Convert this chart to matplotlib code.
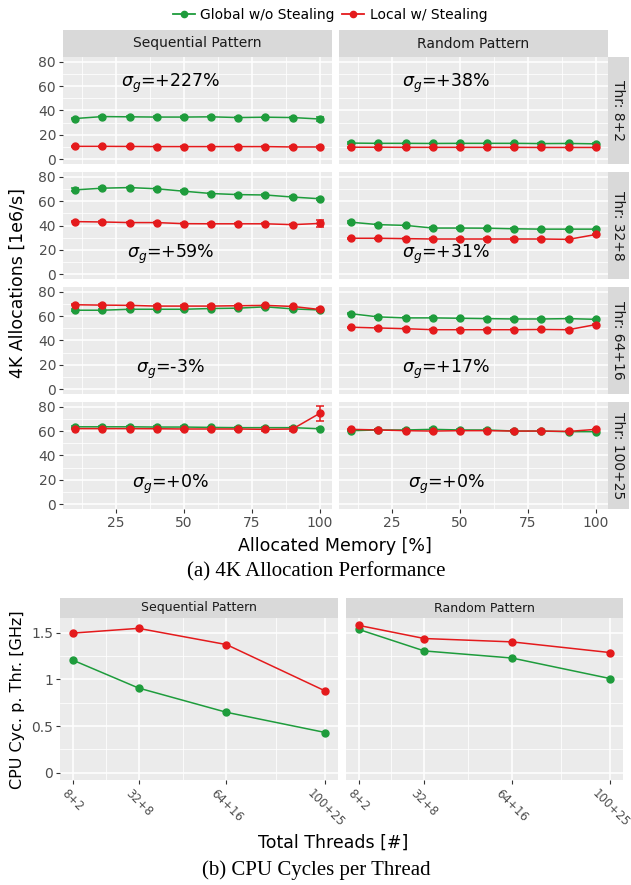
import numpy as np
import matplotlib
matplotlib.use('Agg')
import matplotlib.pyplot as plt
from matplotlib.lines import Line2D

# ---- data (a) 4K allocation performance ----
memory = [10, 20, 30, 40, 50, 60, 70, 80, 90, 100]
thread_rows = ['Thr: 8+2', 'Thr: 32+8', 'Thr: 64+16', 'Thr: 100+25']
patterns = ['Sequential Pattern', 'Random Pattern']

seq_global = [
    [33.4, 35.0, 34.8, 34.6, 34.6, 34.8, 34.2, 34.5, 34.2, 33.0],
    [69.3, 70.7, 71.2, 70.2, 68.2, 66.3, 65.4, 65.1, 63.4, 62.0],
    [64.9, 64.9, 65.7, 65.7, 65.7, 66.3, 66.6, 67.7, 66.0, 65.1],
    [63.6, 63.6, 63.6, 63.4, 63.4, 63.1, 62.9, 62.9, 62.9, 62.0],
]
seq_local = [
    [10.5, 10.5, 10.4, 10.3, 10.3, 10.3, 10.3, 10.3, 10.0, 10.0],
    [43.2, 42.9, 42.4, 42.4, 41.5, 41.4, 41.4, 41.4, 40.7, 41.7],
    [69.4, 69.1, 68.9, 68.3, 68.3, 68.3, 68.6, 68.9, 68.0, 65.5],
    [62.1, 62.1, 62.1, 62.0, 61.8, 61.8, 61.8, 61.5, 61.8, 74.7],
]
rand_global = [
    [13.2, 13.0, 13.0, 12.9, 13.0, 13.0, 13.0, 12.8, 12.9, 12.6],
    [42.7, 40.7, 40.1, 37.9, 37.9, 37.8, 37.3, 37.0, 37.0, 37.0],
    [62.0, 59.4, 58.6, 58.6, 58.3, 58.0, 57.7, 57.7, 58.0, 57.4],
    [60.4, 61.0, 61.0, 61.5, 61.0, 61.0, 60.1, 60.1, 59.6, 59.6],
]
rand_local = [
    [9.8, 9.8, 9.7, 9.7, 9.7, 9.7, 9.7, 9.6, 9.6, 9.6],
    [29.5, 29.5, 29.2, 28.9, 28.9, 28.9, 28.9, 28.9, 28.6, 32.6],
    [50.9, 50.3, 49.7, 48.9, 48.9, 48.9, 48.9, 49.1, 48.9, 53.1],
    [61.5, 61.0, 60.4, 60.1, 60.4, 60.4, 60.1, 60.1, 59.8, 61.5],
]
seq_global_err = [
    [0.8, 0.6, 0.5, 0.5, 0.5, 0.5, 0.6, 0.5, 0.6, 1.8],
    [1.2, 0.8, 0.6, 0.6, 0.6, 0.5, 0.5, 0.5, 0.6, 0.8],
    [1.0, 0.8, 0.6, 0.6, 0.6, 0.6, 0.6, 0.8, 0.6, 0.8],
    [0.6, 0.6, 0.6, 0.6, 0.6, 0.6, 0.6, 0.6, 0.6, 0.6],
]
seq_local_err = [
    [0.5, 0.5, 0.5, 0.5, 0.5, 0.5, 0.5, 0.5, 0.5, 0.8],
    [0.6, 0.5, 0.5, 0.5, 0.5, 0.5, 0.5, 0.5, 0.5, 2.6],
    [0.6, 0.6, 0.6, 0.6, 0.6, 0.6, 0.6, 0.6, 0.6, 1.0],
    [0.6, 0.6, 0.6, 0.6, 0.6, 0.6, 0.6, 1.2, 1.5, 6.3],
]
rand_global_err = [
    [0.6, 0.5, 0.5, 0.5, 0.5, 0.5, 0.5, 0.5, 0.5, 0.5],
    [0.6, 0.5, 0.5, 0.5, 0.5, 0.5, 0.5, 0.5, 0.5, 0.5],
    [0.6, 0.5, 0.5, 0.5, 0.5, 0.5, 0.5, 0.5, 0.5, 0.5],
    [0.6, 0.5, 0.5, 0.8, 0.5, 0.6, 0.5, 0.5, 0.5, 0.5],
]
rand_local_err = [
    [0.4, 0.4, 0.4, 0.4, 0.4, 0.4, 0.4, 0.4, 0.4, 0.4],
    [0.5, 0.5, 0.5, 0.5, 0.5, 0.5, 0.5, 0.5, 0.5, 0.6],
    [0.5, 0.5, 0.5, 0.5, 0.5, 0.5, 0.5, 0.5, 0.5, 0.6],
    [0.5, 0.5, 0.5, 0.5, 0.5, 0.5, 0.5, 0.5, 0.5, 0.6],
]
seq_sigma = ['+227%', '+59%', '-3%', '+0%']
rand_sigma = ['+38%', '+31%', '+17%', '+0%']
sigma_y = [62, 16, 16, 16]

# ---- data (b) CPU cycles per thread ----
threads_total = [10, 40, 80, 125]
thread_labels = ['8+2', '32+8', '64+16', '100+25']
cyc_seq_global = [1.207, 0.907, 0.647, 0.43]
cyc_seq_local = [1.496, 1.547, 1.373, 0.875]
cyc_rand_global = [1.536, 1.305, 1.229, 1.008]
cyc_rand_local = [1.579, 1.438, 1.402, 1.287]

GREEN = '#1e9c3c'
RED = '#e41a1c'
PANEL_BG = '#EBEBEB'
STRIP_BG = '#D9D9D9'
TICK_COL = '#4D4D4D'

W, H = 631, 885
fig = plt.figure(figsize=(W / 100, H / 100), dpi=100)


def px_axes(x0, y0, x1, y1):
    # pixel box (top-left origin) -> figure axes
    return fig.add_axes([x0 / W, 1 - y1 / H, (x1 - x0) / W, (y1 - y0) / H])


def style_panel(ax, xmajor, xminor, ymajor, yminor, show_x, show_y, tick_size):
    ax.set_facecolor(PANEL_BG)
    for s in ax.spines.values():
        s.set_visible(False)
    ax.set_xticks(xmajor)
    ax.set_xticks(xminor, minor=True)
    ax.set_yticks(ymajor)
    ax.set_yticks(yminor, minor=True)
    ax.grid(True, which='major', color='white', linewidth=1.1)
    ax.grid(True, which='minor', color='white', linewidth=0.55)
    ax.set_axisbelow(True)
    ax.tick_params(which='minor', length=0)
    ax.tick_params(which='major', length=3, width=0.8, color='#333333',
                   labelcolor=TICK_COL, labelsize=tick_size, pad=2)
    if not show_x:
        ax.tick_params(axis='x', which='major', length=0, labelbottom=False)
    if not show_y:
        ax.tick_params(axis='y', which='major', length=0, labelleft=False)


def strip_top(x0, y0, x1, y1, label, size):
    sax = px_axes(x0, y0, x1, y1)
    sax.set_facecolor(STRIP_BG)
    sax.set_xticks([])
    sax.set_yticks([])
    for s in sax.spines.values():
        s.set_visible(False)
    sax.text(0.5, 0.5, label, ha='center', va='center', fontsize=size, color='#1A1A1A',
             transform=sax.transAxes)


def strip_right(x0, y0, x1, y1, label, size):
    sax = px_axes(x0, y0, x1, y1)
    sax.set_facecolor(STRIP_BG)
    sax.set_xticks([])
    sax.set_yticks([])
    for s in sax.spines.values():
        s.set_visible(False)
    sax.text(0.5, 0.5, label, ha='center', va='center', fontsize=size, color='#1A1A1A',
             rotation=-90, transform=sax.transAxes)


def draw_series(ax, x, y, err, color):
    ax.errorbar(x, y, yerr=err, color=color, linewidth=1.1, elinewidth=1.1,
                capsize=3, capthick=1.1, marker='o', markersize=5, zorder=3)


# ---- (a) 4K allocation performance ----
col_x = [(63, 332), (339, 608)]
row_top = [57, 172, 287, 402]
row_h = 107

strip_top(63, 30, 332, 57, patterns[0], 10)
strip_top(339, 30, 608, 57, patterns[1], 10)

for r in range(4):
    y0 = row_top[r]
    y1 = y0 + row_h
    for c in range(2):
        ax = px_axes(col_x[c][0], y0, col_x[c][1], y1)
        style_panel(ax, [25, 50, 75, 100], [12.5, 37.5, 62.5, 87.5],
                    [0, 20, 40, 60, 80], [10, 30, 50, 70],
                    show_x=(r == 3), show_y=(c == 0), tick_size=10)
        if c == 0:
            draw_series(ax, memory, seq_global[r], seq_global_err[r], GREEN)
            draw_series(ax, memory, seq_local[r], seq_local_err[r], RED)
            sig = seq_sigma[r]
        else:
            draw_series(ax, memory, rand_global[r], rand_global_err[r], GREEN)
            draw_series(ax, memory, rand_local[r], rand_local_err[r], RED)
            sig = rand_sigma[r]
        ax.text(45, sigma_y[r], r'$\sigma_g$=' + sig, ha='center', va='center', fontsize=12.5)
        ax.set_xlim(5.5, 104.5)
        ax.set_ylim(-4, 84)
    strip_right(608, y0, 629, y1, thread_rows[r], 10)

fig.text(335 / W, 1 - 546 / H, 'Allocated Memory [%]', ha='center', va='center', fontsize=12.5)
fig.text(18 / W, 1 - 283 / H, '4K Allocations [1e6/s]', ha='center', va='center',
         rotation=90, fontsize=12.5)
fig.text(316 / W, 1 - 572 / H, '(a) 4K Allocation Performance', ha='center', va='center',
         fontsize=15, family='Liberation Serif')

# legend at the top
handles = [Line2D([], [], color=GREEN, marker='o', markersize=4.5, linewidth=1.3),
           Line2D([], [], color=RED, marker='o', markersize=4.5, linewidth=1.3)]
fig.legend(handles, ['Global w/o Stealing', 'Local w/ Stealing'], loc='center',
           bbox_to_anchor=(330 / W, 1 - 15 / H), ncol=2, frameon=False, fontsize=10,
           handlelength=1.6, handletextpad=0.4, columnspacing=0.5)

# ---- (b) CPU cycles per thread ----
bcol_x = [(60, 338), (346, 623)]
strip_top(60, 598, 338, 618, patterns[0], 9)
strip_top(346, 598, 623, 618, patterns[1], 9)

for c in range(2):
    ax = px_axes(bcol_x[c][0], 618, bcol_x[c][1], 780)
    style_panel(ax, threads_total, [25, 60, 102.5],
                [0, 0.5, 1, 1.5], [0.25, 0.75, 1.25],
                show_x=True, show_y=(c == 0), tick_size=10)
    if c == 0:
        ax.plot(threads_total, cyc_seq_global, color=GREEN, marker='o', markersize=5, linewidth=1.1)
        ax.plot(threads_total, cyc_seq_local, color=RED, marker='o', markersize=5, linewidth=1.1)
        ax.set_yticklabels(['0', '0.5', '1', '1.5'])
    else:
        ax.plot(threads_total, cyc_rand_global, color=GREEN, marker='o', markersize=5, linewidth=1.1)
        ax.plot(threads_total, cyc_rand_local, color=RED, marker='o', markersize=5, linewidth=1.1)
    # rotated labels centred under their ticks
    ax.set_xticklabels(thread_labels, rotation=-45, ha='center', va='top', fontsize=8.5)
    ax.set_xlim(4.25, 130.75)
    ax.set_ylim(-0.079, 1.658)

fig.text(333 / W, 1 - 843 / H, 'Total Threads [#]', ha='center', va='center', fontsize=12.5)
fig.text(18 / W, 1 - 700 / H, 'CPU Cyc. p. Thr. [GHz]', ha='center', va='center',
         rotation=90, fontsize=11.5)
fig.text(316 / W, 1 - 870 / H, '(b) CPU Cycles per Thread', ha='center', va='center',
         fontsize=15, family='Liberation Serif')

plt.savefig('out.png', dpi=100)
plt.close()
